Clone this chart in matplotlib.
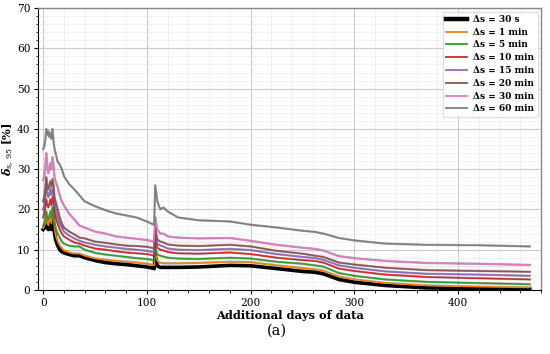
import matplotlib
matplotlib.use("Agg")
import matplotlib.pyplot as plt
import matplotlib.patheffects as pe
from matplotlib.lines import Line2D
from matplotlib.ticker import AutoMinorLocator, MultipleLocator

days = [0, 1, 2, 3, 4, 5, 6, 7, 8, 9, 10, 11, 12, 14, 16, 18, 20, 25, 30, 35, 40,
        50, 60, 70, 80, 90, 100, 104, 107, 108, 110, 113, 116, 120, 130, 150, 180,
        200, 225, 250, 262, 270, 285, 300, 330, 370, 420, 469]

s30s = [15, 15.3, 16, 17, 15.5, 15, 16, 16.5, 15, 17.5, 16, 14, 12.5, 11, 10, 9.5, 9.2, 8.8, 8.5, 8.5, 8,
        7.3, 6.8, 6.5, 6.3, 6, 5.7, 5.5, 5.3, 8.5, 6, 5.6, 5.6, 5.6, 5.6, 5.7, 6.1,
        6, 5.3, 4.6, 4.4, 4, 2.6, 1.9, 1.1, 0.5, 0.3, 0.2]
s1m = [15.3, 15.8, 16.5, 18, 16.5, 16, 17, 18, 16.5, 19.5, 18, 15.5, 13.5, 12, 11, 10.3, 9.8, 9.3, 9, 9, 8.5,
       7.8, 7.5, 7.2, 7, 6.8, 6.5, 6.3, 6.1, 9.3, 7.2, 6.7, 6.6, 6.6, 6.6, 6.7, 7,
       6.9, 6.1, 5.4, 5.1, 4.8, 3.3, 2.6, 1.7, 1.1, 0.8, 0.6]
s5m = [16, 16.5, 17.5, 19.5, 18, 17.5, 18.5, 19.5, 18, 20.5, 19.5, 17, 15.5, 14, 13, 12, 11.5, 11, 10.8, 10.8, 10,
       9.2, 8.8, 8.5, 8.2, 7.9, 7.7, 7.5, 7.3, 10.5, 8.8, 8.5, 8.3, 8, 7.8, 7.7, 8,
       7.8, 7, 6.5, 6.1, 5.8, 4.2, 3.5, 2.6, 2, 1.7, 1.4]
s10m = [18, 19, 20.5, 22.5, 21, 20.5, 21.5, 22.5, 21, 23, 22, 19.5, 18, 16.5, 15, 14, 13.3, 12.5, 11.8, 11.5, 11,
        10.3, 10, 9.6, 9.3, 9.1, 8.9, 8.7, 8.5, 12.5, 10.5, 10, 9.8, 9.4, 9.1, 9, 9.3,
        8.9, 8, 7.4, 7.2, 6.8, 5.3, 4.7, 3.8, 3.2, 2.9, 2.6]
s15m = [20, 21, 23, 25.5, 24, 23, 24, 25, 23.5, 25, 24, 21.5, 20, 18, 16.5, 15.5, 14.5, 13.5, 12.8, 12.2, 11.8,
        11.2, 10.8, 10.5, 10.2, 10, 9.7, 9.5, 9.3, 14, 11.5, 11, 10.8, 10.3, 10, 9.9, 10.2,
        9.9, 8.9, 8.2, 7.9, 7.5, 6.1, 5.5, 4.6, 4, 3.8, 3.5]
s20m = [22, 23, 25, 28, 26, 25, 26, 27, 25.5, 27.5, 26, 23, 22, 20, 18, 16.5, 15.5, 14.5, 13.8, 13, 12.8,
        12, 11.7, 11.3, 11, 10.9, 10.7, 10.5, 10.3, 15.5, 12.5, 12, 11.8, 11.3, 11, 10.9, 11.2,
        10.8, 9.7, 9, 8.5, 8.2, 6.8, 6.3, 5.5, 4.9, 4.7, 4.5]
s30m = [27.3, 28, 30, 34, 31, 29, 30, 31.5, 30, 33, 31, 28, 27, 25.5, 23.5, 22, 21, 19, 17.5, 16, 15.5,
        14.5, 14, 13.3, 13, 12.7, 12.4, 12.2, 12, 18, 15, 14, 14, 13.3, 13, 12.8, 12.9,
        12.2, 11.2, 10.5, 10.2, 9.8, 8.4, 7.9, 7.2, 6.7, 6.5, 6.2]
s60m = [35, 35.5, 37, 40, 38.5, 39.5, 38, 39, 37.5, 40, 37, 35, 34, 31.8, 31.2, 30, 28.3, 26.3, 25, 23.5, 22,
        20.8, 19.8, 19, 18.5, 18, 17, 16.5, 16.2, 26, 22, 20, 20.5, 19.5, 18, 17.3, 17,
        16.2, 15.5, 14.7, 14.4, 14, 12.9, 12.3, 11.5, 11.2, 11.1, 10.8]

labels = [r"Δs = 30 s", r"Δs = 1 min", r"Δs = 5 min", r"Δs = 10 min",
          r"Δs = 15 min", r"Δs = 20 min", r"Δs = 30 min", r"Δs = 60 min"]
series = [s30s, s1m, s5m, s10m, s15m, s20m, s30m, s60m]
colors = ["black", "#ff7f0e", "#2ca02c", "#d62728", "#9467bd", "#8c564b", "#e377c2", "#7f7f7f"]

plt.rcParams["font.family"] = "DejaVu Serif"
plt.rcParams["mathtext.fontset"] = "dejavuserif"

fig = plt.figure(figsize=(5.5, 3.54), dpi=100)
ax = fig.add_axes([0.069, 0.181, 0.915, 0.796])

ax.fill_between(days, s20m, s30m, color="#e377c2", alpha=0.08, lw=0)
ax.fill_between(days, s1m, s5m, color="#2ca02c", alpha=0.07, lw=0)

handles = []
for i, (vals, col, lab) in enumerate(zip(series, colors, labels)):
    if i == 0:
        ax.plot(days, vals, color=col, lw=2.6, zorder=3)
        handles.append(Line2D([], [], color=col, lw=3.2))
    else:
        ax.plot(days, vals, color=col, lw=1.1, zorder=4,
                path_effects=[pe.Stroke(linewidth=1.7, foreground="black", alpha=0.3), pe.Normal()])
        handles.append(Line2D([], [], color=col, lw=1.3))

ax.set_xlim(-5, 480)
ax.set_ylim(0, 70)
ax.xaxis.set_major_locator(MultipleLocator(100))
ax.yaxis.set_major_locator(MultipleLocator(10))
ax.xaxis.set_minor_locator(AutoMinorLocator(5))
ax.yaxis.set_minor_locator(AutoMinorLocator(5))
ax.grid(which="major", color="#cccccc", lw=0.8)
ax.grid(which="minor", color="#ececec", lw=0.5)
ax.set_axisbelow(True)
ax.tick_params(labelsize=7.6, length=3, width=0.8, pad=2.5)
ax.tick_params(which="minor", length=1.8, width=0.6)
for side in ["top", "right"]:
    ax.spines[side].set_color("#888888")
    ax.spines[side].set_linewidth(1.0)

ax.set_xlabel("Additional days of data", fontsize=8.2, fontweight="bold", labelpad=1.5)
ax.set_ylabel(r"$\boldsymbol{\delta}_{\mathrm{s,\,95}}$ [%]", fontsize=8.2, fontweight="bold")
ax.yaxis.set_label_coords(-0.043, 0.5)

leg = ax.legend(handles, labels, loc="upper right", prop={"weight": "bold", "size": 6.5},
                handlelength=2.3, borderpad=0.35, labelspacing=0.42, handletextpad=0.75,
                borderaxespad=0.4, framealpha=0.9, edgecolor="#dddddd", fancybox=True)

fig.text(0.503, 0.066, "(a)", ha="center", va="center", fontsize=10.5)

fig.savefig("out.png", dpi=100)
